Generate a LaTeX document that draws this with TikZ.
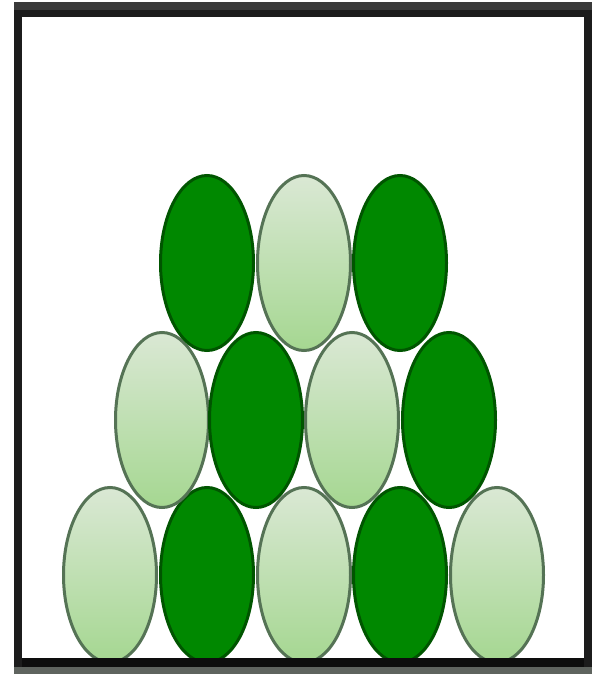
\documentclass[tikz,border=0pt]{standalone}
\usetikzlibrary{shapes.geometric}
\begin{document}
\begin{tikzpicture}[x=1pt,y=-1pt,
  darkegg/.style={draw=dkline, line width=3pt, fill=dkgreen},
  lightegg/.style={draw=ltline, line width=3pt, top color=lttop, bottom color=ltbot, shading angle=0},
]
\definecolor{dkgreen}{RGB}{0,136,0}
\definecolor{dkline}{RGB}{0,85,0}
\definecolor{ltline}{RGB}{85,115,85}
\definecolor{lttop}{RGB}{218,232,212}
\definecolor{ltbot}{RGB}{165,215,145}
\definecolor{framegray}{RGB}{58,58,58}
\definecolor{framedark}{RGB}{28,28,28}
\definecolor{bandgray}{RGB}{95,100,95}
\useasboundingbox (0,0) rectangle (596,674);
\fill[white] (0,0) rectangle (596,674);
% bottom row
\foreach \x/\s [count=\i] in {110/lightegg,207/darkegg,304/lightegg,400/darkegg,497/lightegg}
  \node[\s, ellipse, minimum width=93pt, minimum height=175pt, inner sep=0pt] (b\i) at (\x,575) {};
% middle row
\foreach \x/\s [count=\i] in {162/lightegg,256/darkegg,352/lightegg,449/darkegg}
  \node[\s, ellipse, minimum width=93pt, minimum height=175pt, inner sep=0pt] (m\i) at (\x,420) {};
% top row
\foreach \x/\s [count=\i] in {207/darkegg,304/lightegg,400/darkegg}
  \node[\s, ellipse, minimum width=93pt, minimum height=175pt, inner sep=0pt] (t\i) at (\x,263) {};
% frame
\fill[white] (0,667) rectangle (596,674);
\fill[bandgray] (14,667) rectangle (592,674);
\fill[black!95] (14,658) rectangle (592,667);
\fill[framedark] (14,3) rectangle (22,667);
\fill[framedark] (584,3) rectangle (592,667);
\fill[framegray] (14,2) rectangle (592,10);
\fill[framedark] (14,10) rectangle (592,17);
\end{tikzpicture}
\end{document}
